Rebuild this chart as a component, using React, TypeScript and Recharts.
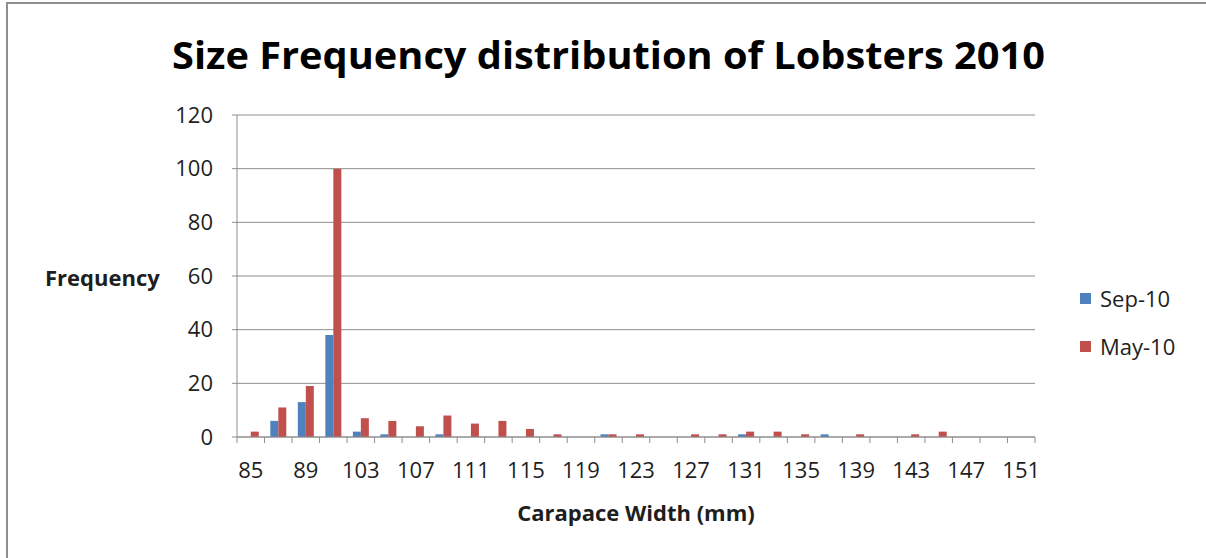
import React from 'react';
import { BarChart, Bar, XAxis, YAxis, CartesianGrid, Legend } from 'recharts';

// Carapace width bins (mm); the 4th bin label is hidden by the axis
const widthBins = [
  '85', '87', '89', '101', '103', '105', '107', '109', '111', '113',
  '115', '117', '119', '121', '123', '125', '127', '129', '131', '133',
  '135', '137', '139', '141', '143', '145', '147', '149', '151',
];

const sep10 = [
  0, 6, 13, 38, 2, 1, 0, 1, 0, 0,
  0, 0, 0, 1, 0, 0, 0, 0, 1, 0,
  0, 1, 0, 0, 0, 0, 0, 0, 0,
];

const may10 = [
  2, 11, 19, 100, 7, 6, 4, 8, 5, 6,
  3, 1, 0, 1, 1, 0, 1, 1, 2, 2,
  1, 0, 1, 0, 1, 2, 0, 0, 0,
];

const yTicks = [0, 20, 40, 60, 80, 100, 120];

const CHART_W = 1206;
const CHART_H = 558;
const PLOT_LEFT = 237;
const PLOT_RIGHT = 1035;
const PLOT_TOP = 115;
const PLOT_BOTTOM = 437;
const LEGEND_W = 130;
const BAND = (PLOT_RIGHT - PLOT_LEFT) / widthBins.length;

const FONT = '"Open Sans", "DejaVu Sans", sans-serif';
const TEXT = '#1e1e1e';
const GRID = '#8f8f8f';
const SEP_COLOR = '#4F81BD';
const MAY_COLOR = '#C0504D';

const data = widthBins.map((bin, i) => ({ bin, sep: sep10[i], may: may10[i] }));

/**
 * X tick: Excel style tick marks sit between categories,
 * labels on every other category
 */
const BinTick = (props: any) => {
  const { x, y, index, payload } = props;
  const half = BAND / 2;
  return (
    <g>
      <line x1={x - half} x2={x - half} y1={y - 6} y2={y} stroke={GRID} />
      {index === widthBins.length - 1 && (
        <line x1={x + half} x2={x + half} y1={y - 6} y2={y} stroke={GRID} />
      )}
      {index % 2 === 0 && (
        <text x={x} y={y} dy={35} textAnchor="middle" fill={TEXT} fontSize={22} fontFamily={FONT}>
          {payload.value}
        </text>
      )}
    </g>
  );
};

const LegendBox = () => (
  <div style={{ width: LEGEND_W, fontFamily: FONT, fontSize: 22, color: TEXT }}>
    {[
      { name: 'Sep-10', color: SEP_COLOR },
      { name: 'May-10', color: MAY_COLOR },
    ].map((item, i) => (
      <div
        key={item.name}
        style={{ display: 'flex', alignItems: 'center', height: 24, marginTop: i === 0 ? 0 : 24 }}
      >
        <span style={{ width: 11, height: 11, background: item.color, marginRight: 9 }} />
        <span style={{ lineHeight: '24px' }}>{item.name}</span>
      </div>
    ))}
  </div>
);

export default function App() {
  return (
    <div
      style={{
        position: 'absolute',
        left: 0,
        top: 0,
        width: CHART_W,
        height: CHART_H,
        background: '#fff',
        overflow: 'hidden',
      }}
    >
      {/* chart frame: top edge and left edge */}
      <div style={{ position: 'absolute', left: 6, top: 2, width: CHART_W - 6, height: 2, background: GRID }} />
      <div style={{ position: 'absolute', left: 6, top: 2, width: 2, height: CHART_H - 2, background: GRID }} />

      <BarChart
        width={CHART_W}
        height={CHART_H}
        data={data}
        margin={{ top: PLOT_TOP, right: CHART_W - PLOT_RIGHT - LEGEND_W, bottom: 0, left: 0 }}
        barCategoryGap="21%"
        barGap={0}
      >
        <CartesianGrid vertical={false} stroke={GRID} />
        <XAxis
          dataKey="bin"
          height={CHART_H - PLOT_BOTTOM}
          interval={0}
          tickLine={false}
          tickSize={6}
          tickMargin={0}
          stroke={GRID}
          tick={<BinTick />}
          label={{
            value: 'Carapace Width (mm)',
            position: 'insideBottom',
            offset: 37,
            fill: TEXT,
            fontSize: 22,
            fontWeight: 700,
            fontFamily: FONT,
          }}
        />
        <YAxis
          width={PLOT_LEFT}
          domain={[0, 120]}
          ticks={yTicks}
          interval={0}
          tickSize={5}
          tickMargin={19}
          stroke={GRID}
          tick={{ fill: TEXT, fontSize: 22, fontFamily: FONT }}
          label={{
            value: 'Frequency',
            position: 'insideLeft',
            offset: 45,
            dy: 2,
            fill: TEXT,
            fontSize: 22,
            fontWeight: 700,
            fontFamily: FONT,
          }}
        />
        <Legend
          layout="vertical"
          align="right"
          verticalAlign="middle"
          content={<LegendBox />}
          wrapperStyle={{ top: 286, left: 1080, right: 'auto', width: LEGEND_W }}
        />
        <Bar dataKey="sep" name="Sep-10" fill={SEP_COLOR} isAnimationActive={false} />
        <Bar dataKey="may" name="May-10" fill={MAY_COLOR} isAnimationActive={false} />
      </BarChart>

      {/* title */}
      <svg
        width={CHART_W}
        height={100}
        style={{ position: 'absolute', left: 0, top: 0, pointerEvents: 'none' }}
      >
        <text
          x={172}
          y={69}
          textLength={873}
          lengthAdjust="spacingAndGlyphs"
          fill="#000"
          fontSize={37}
          fontWeight={700}
          fontFamily={FONT}
        >
          Size Frequency distribution of Lobsters 2010
        </text>
      </svg>
    </div>
  );
}
